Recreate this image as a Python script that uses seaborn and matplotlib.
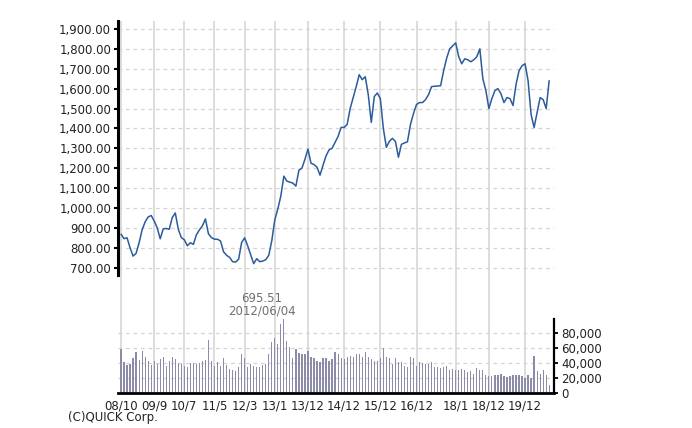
import numpy as np
import pandas as pd
import matplotlib
matplotlib.use("Agg")
import matplotlib.pyplot as plt
import seaborn as sns
from matplotlib.ticker import FuncFormatter

# ---------------- data (monthly, starting 2008/10) ----------------
start_year, start_month = 2008, 10

price = [
    868, 846, 850, 800, 758, 772, 825, 890, 930, 955,
    962, 935, 900, 845, 895, 897, 893, 952, 975, 893,
    851, 840, 810, 825, 817, 865, 890, 910, 945, 870,
    851, 843, 843, 834, 780, 762, 752, 730, 728, 742,
    826, 850, 810, 765, 720, 745, 730, 733, 740, 762,
    835, 940, 995, 1060, 1160, 1135, 1130, 1125, 1110, 1190,
    1200, 1245, 1296, 1225, 1218, 1205, 1165, 1215, 1262, 1292,
    1300, 1330, 1360, 1405, 1405, 1420, 1500, 1555, 1610, 1670,
    1645, 1660, 1570, 1430, 1560, 1578, 1550, 1400, 1305, 1335,
    1350, 1335, 1255, 1320, 1327, 1333, 1420, 1475, 1520, 1530,
    1530, 1545, 1570, 1610, 1612, 1613, 1615, 1690, 1753, 1800,
    1815, 1830, 1760, 1725, 1750, 1745, 1735, 1745, 1760, 1800,
    1650, 1590, 1500, 1550, 1590, 1600, 1575, 1530, 1555, 1550,
    1515, 1620, 1690, 1715, 1725, 1640, 1470, 1405, 1480, 1555,
    1545, 1500, 1640,
]

volume_k = [
    58.7, 40.9, 36.9, 38.7, 45.8, 54.0, 43.6, 55.5, 47.5, 43.0,
    37.0, 43.0, 39.0, 44.4, 47.5, 35.5, 42.0, 47.5, 45.3, 40.0,
    38.7, 35.5, 34.0, 40.0, 40.0, 38.7, 40.0, 42.0, 44.0, 69.8,
    43.0, 35.5, 41.0, 35.5, 46.7, 37.0, 32.4, 31.0, 29.0, 34.7,
    52.0, 46.7, 34.7, 38.7, 35.5, 34.0, 34.7,
    37.0, 38.7, 51.0, 68.0, 72.4, 65.3, 92.0, 99.0, 69.0, 61.0,
    46.7, 58.7, 53.3, 51.0, 51.0, 55.5, 47.5, 45.8, 42.0, 41.0,
    45.8, 45.8, 42.0, 44.4, 54.7, 51.0, 46.7, 45.3, 47.5, 48.4,
    47.5, 52.0, 51.0, 48.0, 54.7, 47.5, 45.3, 42.0, 42.0, 46.7,
    60.0, 47.5, 46.7, 39.0, 45.8, 41.0, 41.0, 35.5,
    34.7, 48.0, 46.7, 36.4, 40.9, 40.0, 39.0, 39.0, 41.0, 34.7,
    34.7, 33.3, 34.7, 36.4, 30.0, 32.0, 29.8, 30.0, 32.0, 29.8,
    28.4, 29.3, 25.8, 33.3, 31.0, 30.0, 24.4, 23.0, 23.0, 24.4,
    23.5, 25.8, 22.2, 21.3, 23.0, 24.0, 24.4, 23.5, 22.2, 20.0,
    24.4, 20.0, 48.9, 28.9, 25.3, 29.8, 23.5, 11.0,
]

tick_labels = ["08/10", "09/9", "10/7", "11/5", "12/3", "13/1", "13/12",
               "14/12", "15/12", "16/12", "18/1", "18/12", "19/12"]
price_ticks = list(range(700, 2000, 100))
volume_ticks = [0, 20000, 40000, 60000, 80000]
low_value = "695.51"
low_date = "2012/06/04"
copyright_text = "(C)QUICK Corp."

# ---------------- derived ----------------
months = np.arange(len(price))
volume = [v * 1000 for v in volume_k]
df = pd.DataFrame({"m": months, "price": price, "volume": volume})


def label_to_index(lbl):
    yy, mm = lbl.split("/")
    return (2000 + int(yy) - start_year) * 12 + int(mm) - start_month


tick_pos = [label_to_index(t) for t in tick_labels]

# ---------------- style ----------------
sns.set_theme(style="white")
plt.rcParams["font.family"] = ["Liberation Sans Narrow", "DejaVu Sans"]

W_PX, H_PX = 692, 428
fig = plt.figure(figsize=(W_PX / 100, H_PX / 100), dpi=100)
fig.patch.set_facecolor("white")

L = 118 / W_PX
R = 554 / W_PX
P_TOP = 1 - 21 / H_PX
P_BOT = 1 - 275 / H_PX
V_TOP = 1 - 319 / H_PX
V_BOT = 1 - 393 / H_PX
xlim = (-1.0, 143.6)

# background axes: vertical grid lines through both panels
bg = fig.add_axes([L, V_BOT, R - L, P_TOP - V_BOT])
bg.set_xlim(*xlim)
bg.set_xticks(tick_pos)
bg.set_yticks([])
bg.tick_params(length=0, labelbottom=False)
for s in bg.spines.values():
    s.set_visible(False)
bg.grid(axis="x", color="#dadada", lw=1.3)
bg.set_zorder(0)

# ---------------- price panel ----------------
ax = fig.add_axes([L, P_BOT, R - L, P_TOP - P_BOT])
ax.patch.set_visible(False)
ax.set_zorder(2)
sns.lineplot(data=df, x="m", y="price", ax=ax, color="#2b5c9c", lw=1.1)
ax.set_xlim(*xlim)
ax.set_ylim(663, 1940)
ax.set_yticks(price_ticks)
ax.yaxis.set_major_formatter(FuncFormatter(lambda v, p: f"{v:,.2f}"))
ax.set_xticks([])
ax.set_xlabel("")
ax.set_ylabel("")
ax.grid(axis="y", color="#d4d4d4", lw=0.9, ls=(0, (3, 3)))
for k in ["top", "right", "bottom"]:
    ax.spines[k].set_visible(False)
ax.spines["left"].set_color("black")
ax.spines["left"].set_linewidth(2.2)
ax.tick_params(axis="y", direction="out", length=3, width=1.5, color="black",
               labelsize=8.5, labelcolor="#222222", pad=2, left=True)

# ---------------- volume panel ----------------
axv = fig.add_axes([L, V_BOT, R - L, V_TOP - V_BOT])
axv.patch.set_visible(False)
axv.set_zorder(2)
sns.barplot(data=df, x="m", y="volume", ax=axv, native_scale=True,
            width=0.4, color="#8c8ca8", saturation=1, edgecolor="none")
axv.set_xlim(*xlim)
axv.set_ylim(0, 98000)
axv.set_yticks(volume_ticks)
axv.yaxis.set_major_formatter(FuncFormatter(lambda v, p: f"{int(v):,}"))
axv.yaxis.tick_right()
axv.set_xticks(tick_pos, tick_labels)
axv.set_xlabel("")
axv.set_ylabel("")
axv.grid(axis="y", color="#d4d4d4", lw=0.9, ls=(0, (3, 3)))
axv.grid(axis="x", visible=False)
for k in ["top", "left"]:
    axv.spines[k].set_visible(False)
axv.spines["right"].set_color("black")
axv.spines["right"].set_linewidth(1.6)
axv.spines["bottom"].set_color("black")
axv.spines["bottom"].set_linewidth(2.0)
axv.tick_params(axis="y", direction="out", length=3, width=1.3, color="black",
                labelsize=8.5, labelcolor="#222222", pad=2, right=True)
axv.tick_params(axis="x", length=0, labelsize=8.5, labelcolor="#222222", pad=5)

# annotation of the period low
fig.text(262 / W_PX, 1 - 298 / H_PX, low_value, ha="center", va="center",
         fontsize=8.5, color="#707070")
fig.text(262 / W_PX, 1 - 311 / H_PX, low_date, ha="center", va="center",
         fontsize=8.5, color="#707070")

fig.text(68 / W_PX, 1 - 418 / H_PX, copyright_text, ha="left", va="center",
         fontsize=8.5, color="#222222")

fig.savefig("out.png", dpi=100, facecolor="white")
